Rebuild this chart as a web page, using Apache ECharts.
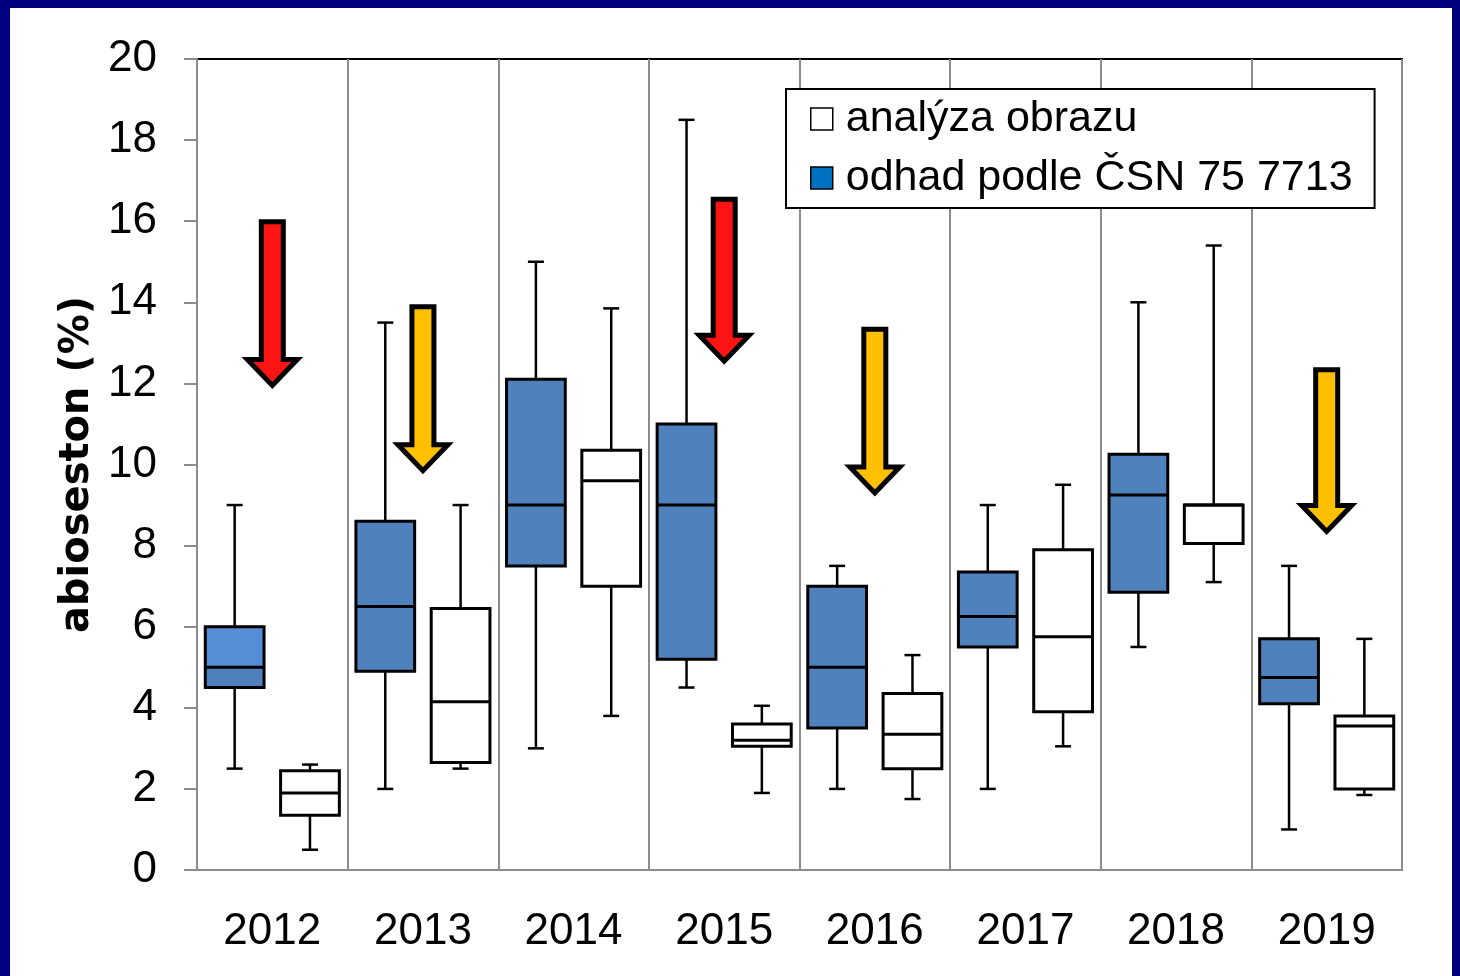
<!DOCTYPE html>
<html>
<head>
<meta charset="utf-8">
<script src="https://cdn.jsdelivr.net/npm/echarts@6/dist/echarts.min.js"></script>
<style>
  html, body { margin: 0; padding: 0; background: #000080; }
  #main { position: absolute; left: 10px; top: 8px; width: 1442px; height: 968px; background: #fff; }
</style>
</head>
<body>
<div id="main"></div>
<script>
// roky
var years = ['2012', '2013', '2014', '2015', '2016', '2017', '2018', '2019']

// odhad podle CSN 75 7713 (modre krabicky)
var odhadMin = [2.5, 2.0, 3.0, 4.5, 2.0, 2.0, 5.5, 1.0]
var odhadQ1 = [4.5, 4.9, 7.5, 5.2, 3.5, 5.5, 6.85, 4.1]
var odhadMed = [5.0, 6.5, 9.0, 9.0, 5.0, 6.25, 9.25, 4.75]
var odhadQ3 = [6.0, 8.6, 12.1, 11.0, 7.0, 7.35, 10.25, 5.7]
var odhadMax = [9.0, 13.5, 15.0, 18.5, 7.5, 9.0, 14.0, 7.5]

// analyza obrazu (bile krabicky)
var obrazMin = [0.5, 2.5, 3.8, 1.9, 1.75, 3.05, 7.1, 1.85]
var obrazQ1 = [1.35, 2.65, 7.0, 3.05, 2.5, 3.9, 8.05, 2.0]
var obrazMed = [1.9, 4.15, 9.6, 3.2, 3.35, 5.75, 9.0, 3.55]
var obrazQ3 = [2.45, 6.45, 10.35, 3.6, 4.35, 7.9, 9.0, 3.8]
var obrazMax = [2.6, 9.0, 13.85, 4.05, 5.3, 9.5, 15.4, 5.7]

// sipky: rok, horni konec, spicka, druh (0 = cervena, 1 = zluta)
var arrowYears = ['2012', '2013', '2015', '2016', '2019']
var arrowTop = [16.05, 13.95, 16.6, 13.4, 12.4]
var arrowTip = [11.85, 9.75, 12.45, 9.2, 8.25]
var arrowKind = [0, 1, 0, 1, 1]

var yTicks = [0, 2, 4, 6, 8, 10, 12, 14, 16, 18, 20]

var tickFont = "'Liberation Sans Narrow', 'Liberation Sans', sans-serif"
var arrowColors = ['#ff1414', '#ffc000']
var upperFill2012 = '#558ed5'

function boxData(mn, q1, md, q3, mx) {
  return years.map(function (y, i) {
    return [i, mn[i], q1[i], md[i], q3[i], mx[i]]
  })
}

function boxRenderer(side, fill, firstUpperFill) {
  return function (params, api) {
    var idx = api.value(0)
    var bw = api.size([1, 0])[0]
    var cx = api.coord([idx, 0])[0] + side * bw * 0.25
    var half = bw * 0.195
    var cap = 8
    var y = function (v) { return api.coord([idx, v])[1] }
    var yMin = y(api.value(1))
    var yQ1 = y(api.value(2))
    var yMed = y(api.value(3))
    var yQ3 = y(api.value(4))
    var yMax = y(api.value(5))
    var upper = (firstUpperFill && params.dataIndex === 0) ? firstUpperFill : fill
    var line = { stroke: '#000', lineWidth: 2.5 }
    return {
      type: 'group',
      children: [
        { type: 'line', shape: { x1: cx, y1: yMax, x2: cx, y2: yQ3 }, style: line },
        { type: 'line', shape: { x1: cx, y1: yQ1, x2: cx, y2: yMin }, style: line },
        { type: 'line', shape: { x1: cx - cap, y1: yMax, x2: cx + cap, y2: yMax }, style: line },
        { type: 'line', shape: { x1: cx - cap, y1: yMin, x2: cx + cap, y2: yMin }, style: line },
        { type: 'rect', shape: { x: cx - half, y: yMed, width: half * 2, height: yQ1 - yMed }, style: { fill: fill } },
        { type: 'rect', shape: { x: cx - half, y: yQ3, width: half * 2, height: yMed - yQ3 }, style: { fill: upper } },
        { type: 'rect', shape: { x: cx - half, y: yQ3, width: half * 2, height: yQ1 - yQ3 }, style: { fill: 'none', stroke: '#000', lineWidth: 3 } },
        { type: 'line', shape: { x1: cx - half, y1: yMed, x2: cx + half, y2: yMed }, style: { stroke: '#000', lineWidth: 3 } }
      ]
    }
  }
}

function arrowRenderer(params, api) {
  var idx = api.value(0)
  var cx = api.coord([idx, 0])[0]
  var yTop = api.coord([idx, api.value(1)])[1] + 2.5
  var yTip = api.coord([idx, api.value(2)])[1] - 4
  var yHead = yTip - 26
  var s = 11, h = 25
  return {
    type: 'polygon',
    shape: {
      points: [[cx - s, yTop], [cx + s, yTop], [cx + s, yHead], [cx + h, yHead], [cx, yTip], [cx - h, yHead], [cx - s, yHead]]
    },
    style: { fill: arrowColors[api.value(3)], stroke: '#000', lineWidth: 5, lineJoin: 'miter' }
  }
}

var chart = echarts.init(document.getElementById('main'))

chart.setOption({
  animation: false,
  grid: {
    left: 187,
    right: 50,
    top: 51,
    bottom: 106,
    show: true,
    borderColor: '#000',
    borderWidth: 2
  },
  legend: {
    orient: 'vertical',
    left: 776,
    top: 81,
    backgroundColor: '#fff',
    borderColor: '#000',
    borderWidth: 2,
    padding: [6, 22, 6, 24],
    itemGap: 11,
    itemWidth: 22,
    itemHeight: 22,
    icon: 'rect',
    textStyle: {
      fontFamily: tickFont,
      fontSize: 43,
      color: '#000',
      lineHeight: 48,
      padding: [0, 0, 0, 8]
    },
    data: [
      { name: 'analýza obrazu', itemStyle: { color: '#fff', borderColor: '#000', borderWidth: 1.5 } },
      { name: 'odhad podle ČSN 75 7713', itemStyle: { color: '#0070c0', borderColor: '#000', borderWidth: 1.5 } }
    ]
  },
  xAxis: {
    type: 'category',
    data: years,
    boundaryGap: true,
    axisLine: { lineStyle: { color: '#8c8c8c', width: 2 } },
    axisTick: { show: false },
    splitLine: { show: true, interval: 0, lineStyle: { color: '#8c8c8c', width: 2 } },
    axisLabel: { fontFamily: tickFont, fontSize: 44, color: '#000', margin: 40 }
  },
  yAxis: {
    type: 'value',
    min: 0,
    max: 20,
    interval: 2,
    name: 'abioseston (%)',
    nameLocation: 'middle',
    nameGap: 96,
    nameTextStyle: { fontFamily: 'DejaVu Sans', fontWeight: 'bold', fontSize: 40, color: '#000' },
    axisLine: { show: true, lineStyle: { color: '#8c8c8c', width: 2 } },
    axisTick: { show: true, length: 13, lineStyle: { color: '#8c8c8c', width: 2 } },
    splitLine: { show: false },
    axisLabel: {
      fontFamily: tickFont,
      fontSize: 44,
      color: '#000',
      margin: 40,
      formatter: function (v) { return yTicks.indexOf(v) >= 0 ? String(v) : '' }
    }
  },
  series: [
    {
      name: 'odhad podle ČSN 75 7713',
      type: 'custom',
      renderItem: boxRenderer(-1, '#4f81bd', upperFill2012),
      encode: { x: 0, y: [1, 2, 3, 4, 5] },
      itemStyle: { color: '#0070c0' },
      data: boxData(odhadMin, odhadQ1, odhadMed, odhadQ3, odhadMax),
      z: 3
    },
    {
      name: 'analýza obrazu',
      type: 'custom',
      renderItem: boxRenderer(1, '#fff'),
      encode: { x: 0, y: [1, 2, 3, 4, 5] },
      itemStyle: { color: '#fff' },
      data: boxData(obrazMin, obrazQ1, obrazMed, obrazQ3, obrazMax),
      z: 3
    },
    {
      name: 'sipky',
      type: 'custom',
      renderItem: arrowRenderer,
      encode: { x: 0, y: [1, 2] },
      data: arrowYears.map(function (y, i) {
        return [years.indexOf(y), arrowTop[i], arrowTip[i], arrowKind[i]]
      }),
      z: 4
    }
  ]
})
</script>
</body>
</html>
